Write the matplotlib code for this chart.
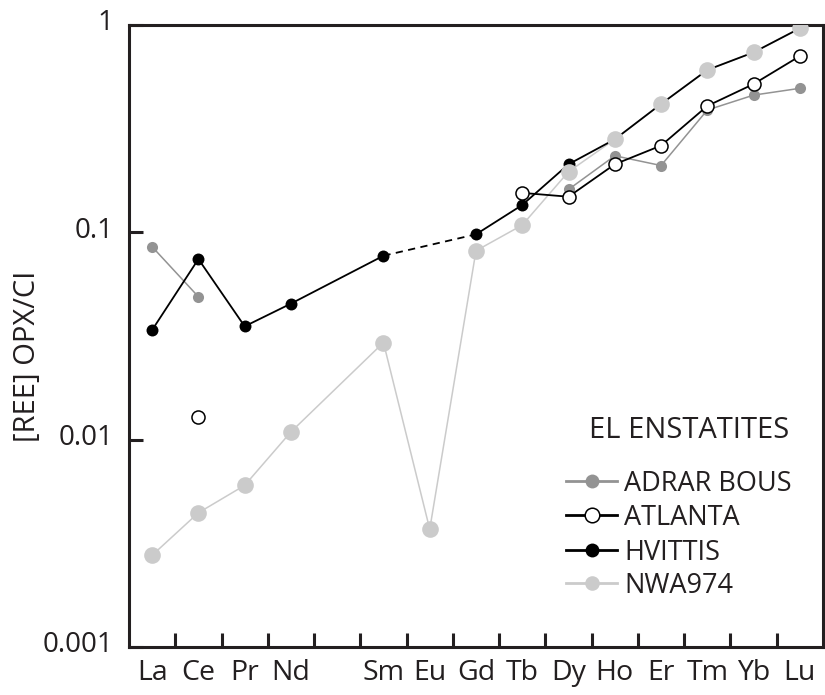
import numpy as np
import matplotlib
matplotlib.use("Agg")
import matplotlib.pyplot as plt
from matplotlib.lines import Line2D
from matplotlib.transforms import ScaledTranslation

plt.rcParams['font.family'] = ['Open Sans', 'DejaVu Sans']

elements = ["La", "Ce", "Pr", "Nd", "Pm", "Sm", "Eu", "Gd", "Tb", "Dy", "Ho", "Er", "Tm", "Yb", "Lu"]
tick_labels = ["La", "Ce", "Pr", "Nd", "", "Sm", "Eu", "Gd", "Tb", "Dy", "Ho", "Er", "Tm", "Yb", "Lu"]
nan = np.nan
adrar_bous = [0.0852, 0.0489, nan, nan, nan, nan, nan, nan, nan, 0.161, 0.234, 0.210, 0.389, 0.459, 0.495]
atlanta = [nan, 0.01285, nan, nan, nan, nan, nan, nan, 0.155, 0.1485, 0.213, 0.262, 0.407, 0.519, 0.708]
hvittis = [0.0338, 0.0743, 0.0352, 0.0453, nan, 0.0771, nan, 0.0978, 0.1355, 0.213, 0.281, 0.416, 0.607, 0.738, 0.964]
nwa974 = [0.00277, 0.00444, 0.00602, 0.0109, nan, 0.0294, 0.00370, 0.0815, 0.1084, 0.196, 0.281, 0.416, 0.607, 0.738, 0.964]
series_names = ["ADRAR BOUS", "ATLANTA", "HVITTIS", "NWA974"]
legend_title = "EL ENSTATITES"

x = np.arange(len(elements))

fig = plt.figure(figsize=(8.25, 6.95), dpi=100)
ax = fig.add_axes([129/825, 1-647/695, 694/825, 622/695])
ax.set_yscale('log')
ax.set_xlim(-0.5, 14.5)
ax.set_ylim(0.001, 1)

dark = '#231f20'
c_adrar = '#939393'
c_nwa = '#cbcbcb'

ya = np.array(adrar_bous, dtype=float)
yt = np.array(atlanta, dtype=float)
yh = np.array(hvittis, dtype=float)
yn = np.array(nwa974, dtype=float)

# ADRAR BOUS
ax.plot(x, ya, '-', color=c_adrar, lw=1.1, zorder=2)
ax.plot(x, ya, 'o', color=c_adrar, ms=8, mec='none', zorder=3)

# NWA974 line (Pm skipped)
mn = ~np.isnan(yn)
ax.plot(x[mn], yn[mn], '-', color=c_nwa, lw=1.1, zorder=2.5)

# HVITTIS: solid La..Sm (Pm skipped), dashed Sm-Gd, solid Gd..Lu
sm, gd = elements.index("Sm"), elements.index("Gd")
m1 = ~np.isnan(yh) & (x <= sm)
m2 = ~np.isnan(yh) & (x >= gd)
ax.plot(x[m1], yh[m1], '-', color='black', lw=1.3, zorder=4)
ax.plot(x[m2], yh[m2], '-', color='black', lw=1.3, zorder=4)
ax.plot([x[sm], x[gd]], [yh[sm], yh[gd]], '-', color='black', lw=1.3, dashes=(4, 3), zorder=4)
ax.plot(x, yh, 'o', color='black', ms=8.6, mec='none', zorder=5)

# NWA974 markers
ax.plot(x, yn, 'o', color=c_nwa, ms=12, mec='none', zorder=6)

# ATLANTA
ax.plot(x, yt, '-', color='black', lw=1.3, zorder=7)
ax.plot(x, yt, 'o', mfc='white', mec='black', mew=1.1, ms=9.4, zorder=8)

# axes styling
for s in ax.spines.values():
    s.set_linewidth(2.2)
    s.set_color(dark)

ax.set_xticks(x)
ax.set_xticklabels(tick_labels)
ax.set_xticks(np.arange(0.5, 14, 1), minor=True)
ax.tick_params(axis='x', which='major', length=0, pad=8.5, labelsize=20.5, colors=dark)
ax.tick_params(axis='x', which='minor', direction='in', length=10, width=2.2, color=dark)

ax.set_yticks([0.001, 0.01, 0.1, 1])
ax.set_yticklabels(["0.001", "0.01", "0.1", "1"])
ax.yaxis.set_minor_locator(matplotlib.ticker.NullLocator())
ax.tick_params(axis='y', which='major', direction='in', length=10, width=2.2, color=dark,
               labelsize=20, pad=11, labelcolor=dark)
off = ScaledTranslation(0, 5/100, fig.dpi_scale_trans)
for lab in ax.get_yticklabels():
    lab.set_transform(lab.get_transform() + off)

ax.set_ylabel("[REE] OPX/CI", fontsize=21, color=dark, va='center')
ax.yaxis.set_label_coords((28-129)/694, (647-356)/622)

# legend (drawn at fixed figure-pixel positions)
W, H = 825, 695
def fx(px): return px / W
def fy(py): return 1 - py / H

fig.text(fx(689), fy(430), legend_title, fontsize=21, color=dark, ha='center', va='center')
styles = [
    dict(color=c_adrar, lw=2.0, marker='o', ms=10, mec='none', mfc=c_adrar),
    dict(color='black', lw=2.0, marker='o', mfc='white', mec='black', mew=1.1, ms=10.5),
    dict(color='black', lw=2.0, marker='o', ms=10, mec='none', mfc='black'),
    dict(color=c_nwa, lw=2.0, marker='o', ms=10.5, mec='none', mfc=c_nwa),
]
rows = [481, 515, 550, 583]
fsz = 19.5
cap = fsz / 72 * 100 * 0.714
mk = ('marker', 'ms', 'mec', 'mfc', 'mew')
for name, st, r in zip(series_names, styles, rows):
    fig.add_artist(Line2D([fx(566), fx(617)], [fy(r), fy(r)], transform=fig.transFigure,
                          **{k: v for k, v in st.items() if k not in mk}))
    fig.add_artist(Line2D([fx(592)], [fy(r)], transform=fig.transFigure, linestyle='none',
                          **{k: v for k, v in st.items() if k in mk}))
    fig.text(fx(624), fy(r + cap / 2), name, fontsize=fsz, color=dark, ha='left', va='baseline')

fig.savefig("out.png", dpi=100)
